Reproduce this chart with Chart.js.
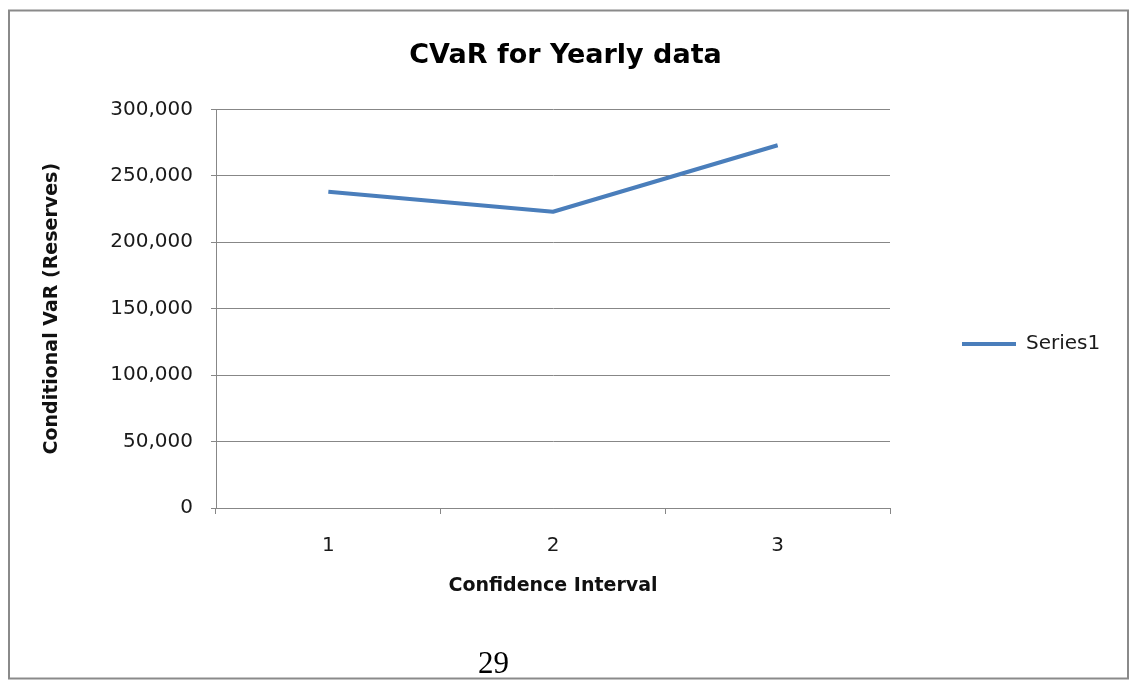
<!DOCTYPE html>
<html>
<head>
<meta charset="utf-8">
<title>CVaR for Yearly data</title>
<script src="https://cdn.jsdelivr.net/npm/chart.js@4.4.1/dist/chart.umd.min.js"></script>
<style>
  html, body { margin: 0; padding: 0; background: #fff; }
  #wrap { position: relative; width: 1131px; height: 680px; overflow: hidden; }
  #c { display: block; }
  #page { position: absolute; left: 478px; top: 647px; font: 31px/31px "Liberation Serif", serif; color: #000; }
</style>
</head>
<body>
<div id="wrap">
  <canvas id="c" width="1131" height="680"></canvas>
  <div id="page">29</div>
</div>
<script>
// Confidence interval levels and the conditional VaR (reserves) at each
const categories = ['1', '2', '3'];
const cvarValues = [238000, 223000, 273000];
const yTickValues = [0, 50000, 100000, 150000, 200000, 250000, 300000];
const seriesName = 'Series1';

const AXIS_GREY = '#878787';
const LINE_BLUE = '#4a7ebb';
const LEGEND_WIDTH = 241;

Chart.defaults.font.family = '"DejaVu Sans", "Open Sans", sans-serif';

// White page with a grey frame around the whole chart
const framePlugin = {
  id: 'frame',
  beforeDraw(chart) {
    const ctx = chart.ctx;
    ctx.save();
    ctx.fillStyle = '#fff';
    ctx.fillRect(0, 0, chart.width, chart.height);
    ctx.strokeStyle = '#8a8a8a';
    ctx.lineWidth = 2;
    ctx.strokeRect(9, 10.5, 1119, 668);
    ctx.restore();
  }
};

// Keep the legend column at a fixed width so the plot ends where it should
const legendWidthPlugin = {
  id: 'legendWidth',
  afterInit(chart) {
    const lg = chart.legend;
    if (!lg) return;
    const fit = lg.fit.bind(lg);
    lg.fit = function () {
      fit();
      this.width = LEGEND_WIDTH;
    };
  }
};

new Chart(document.getElementById('c'), {
  type: 'line',
  data: {
    labels: categories,
    datasets: [{
      label: seriesName,
      data: cvarValues,
      borderColor: LINE_BLUE,
      backgroundColor: LINE_BLUE,
      borderWidth: 4,
      borderJoinStyle: 'round',
      pointRadius: 0,
      pointHoverRadius: 0,
      tension: 0,
      fill: false
    }]
  },
  options: {
    responsive: false,
    animation: false,
    events: [],
    layout: { padding: { top: 8, left: 0, right: 0, bottom: 0 } },
    plugins: {
      title: {
        display: true,
        text: 'CVaR for Yearly data',
        color: '#000',
        font: { size: 27, weight: 'bold' },
        padding: { top: 32, bottom: 37 }
      },
      legend: {
        display: true,
        position: 'right',
        labels: {
          usePointStyle: true,
          pointStyle: 'line',
          pointStyleWidth: 54,
          padding: 72,
          color: '#1a1a1a',
          font: { size: 20 }
        }
      },
      tooltip: { enabled: false }
    },
    scales: {
      x: {
        type: 'category',
        offset: true,
        grid: {
          display: true,
          offset: true,
          drawOnChartArea: false,
          drawTicks: true,
          tickLength: 6,
          color: AXIS_GREY
        },
        border: { display: true, color: AXIS_GREY, width: 1 },
        ticks: { padding: 20, color: '#1a1a1a', font: { size: 20 }, maxRotation: 0 },
        title: {
          display: true,
          text: 'Confidence Interval',
          color: '#111',
          font: { size: 19, weight: 'bold' },
          padding: { top: 0, bottom: 83 }
        },
        afterFit(scale) { scale.height = 172; }
      },
      y: {
        type: 'linear',
        min: 0,
        max: 300000,
        grid: { color: AXIS_GREY, tickLength: 5 },
        border: { display: true, color: AXIS_GREY, width: 1 },
        ticks: {
          padding: 18,
          color: '#1a1a1a',
          font: { size: 20 },
          callback: (v) => Number(v).toLocaleString('en-US')
        },
        afterBuildTicks(scale) {
          scale.ticks = yTickValues.map((v) => ({ value: v }));
        },
        title: {
          display: true,
          text: 'Conditional VaR (Reserves)',
          color: '#111',
          font: { size: 19, weight: 'bold' },
          padding: { top: 41, bottom: 0 }
        },
        afterFit(scale) { scale.width = 216; }
      }
    }
  },
  plugins: [framePlugin, legendWidthPlugin]
});
</script>
</body>
</html>
